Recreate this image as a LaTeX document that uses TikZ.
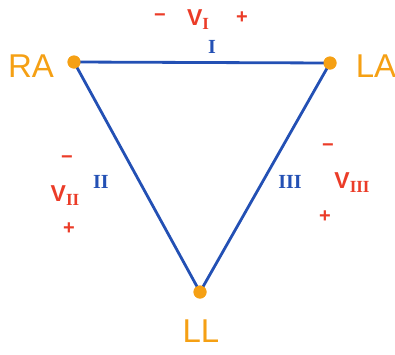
\documentclass[tikz,border=0pt]{standalone}
\usepackage{fontspec}
\setmainfont{Liberation Sans}
\newfontfamily\numfont{Liberation Serif}
\newcommand\vsubscr[1]{\raisebox{-4pt}{\numfont\bfseries\fontsize{17}{17}\selectfont #1}}
\definecolor{lorange}{RGB}{245,160,20}
\definecolor{lblue}{RGB}{35,80,180}
\definecolor{lred}{RGB}{235,60,40}
\begin{document}
\begin{tikzpicture}[x=1pt,y=-1pt,
  lead/.style={circle,fill=lorange,inner sep=0pt,minimum size=13pt},
  leadlabel/.style={text=lorange,font=\fontsize{33}{33}\selectfont},
  wire/.style={draw=lblue,line width=2.8pt},
  num/.style={text=lblue,font=\numfont\bfseries\fontsize{20}{20}\selectfont},
  pol/.style={text=lred,font=\bfseries\fontsize{20}{20}\selectfont},
  volt/.style={text=lred,font=\bfseries\fontsize{23}{23}\selectfont}]
\useasboundingbox (0,0) rectangle (395,354);
\node[lead] (ra) at (74,62) {};
\node[lead] (la) at (330,63) {};
\node[lead] (ll) at (200,292) {};
\draw[wire] (ra.center) -- (la.center) -- (ll.center) -- cycle;
\node[lead] at (74,62) {};
\node[lead] at (330,63) {};
\node[lead] at (200,292) {};
\node[leadlabel] (lra) at (31,66) {RA};
\node[leadlabel] (lla) at (376,66) {LA};
\node[leadlabel] (lll) at (201,331) {LL};
\node[num] (n1) at (212,47) {I};
\node[num] (n2) at (101,182) {II};
\node[num] (n3) at (290,182) {III};
\node[pol] (m1) at (160,18) {\textminus};
\node[volt] (v1) at (198,20) {V\vsubscr{I}};
\node[pol] (p1) at (242,18) {+};
\node[pol] (m2) at (67,160) {\textminus};
\node[volt] (v2) at (65,196) {V\vsubscr{II}};
\node[pol] (p2) at (69,229) {+};
\node[pol] (m3) at (328,148) {\textminus};
\node[volt] (v3) at (352,183) {V\vsubscr{III}};
\node[pol] (p3) at (325,217) {+};
\end{tikzpicture}
\end{document}
